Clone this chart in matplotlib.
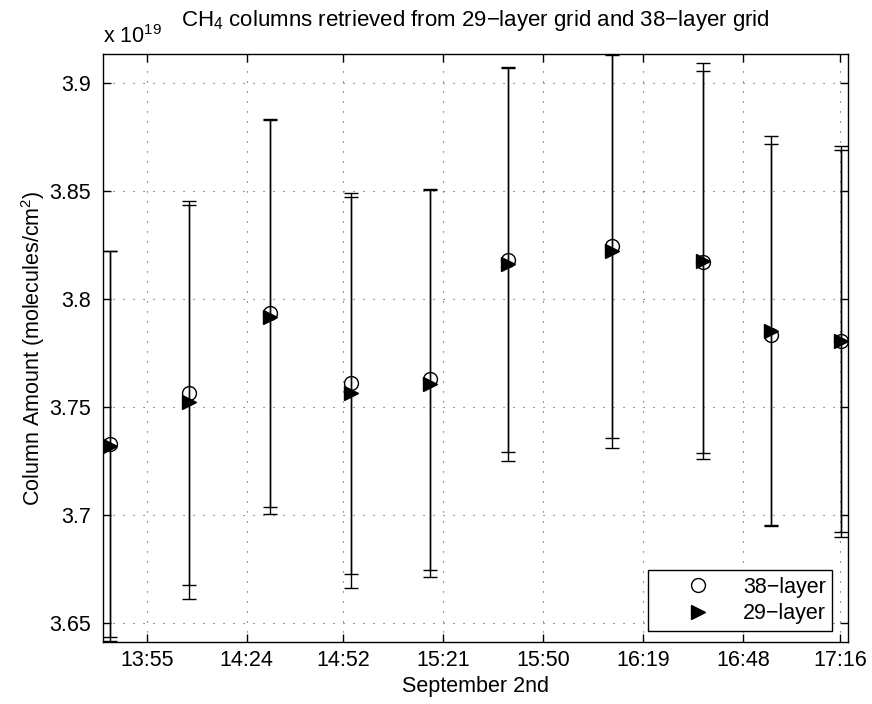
import matplotlib
matplotlib.use('Agg')
import matplotlib.pyplot as plt
from matplotlib.lines import Line2D

plt.rcParams['font.family'] = ['Liberation Sans', 'DejaVu Sans']
plt.rcParams['mathtext.fontset'] = 'custom'
plt.rcParams['mathtext.rm'] = 'Liberation Sans'
plt.rcParams['mathtext.it'] = 'Liberation Sans:italic'
plt.rcParams['font.size'] = 15.5

# observation times, minutes after midnight (September 2nd)
obs_minutes = [824.2, 847.3, 870.7, 894.2, 917.1, 939.8, 970.0, 996.2, 1016.0, 1036.2]

# CH4 columns in units of 1e19 molecules/cm^2
col_38 = [3.7330, 3.7565, 3.7935, 3.7609, 3.7628, 3.8181, 3.8244, 3.8171, 3.7835, 3.7806]
err_38 = [0.0895, 0.0891, 0.0898, 0.0885, 0.0884, 0.0889, 0.0888, 0.0886, 0.0884, 0.0884]
col_29 = [3.7320, 3.7521, 3.7917, 3.7565, 3.7608, 3.8163, 3.8225, 3.8177, 3.7853, 3.7804]
err_29 = [0.0905, 0.0913, 0.0912, 0.0906, 0.0898, 0.0912, 0.0915, 0.0916, 0.0904, 0.0906]

time_labels = ['13:55', '14:24', '14:52', '15:21', '15:50', '16:19', '16:48', '17:16']
col_labels = ['3.65', '3.7', '3.75', '3.8', '3.85', '3.9']


def to_minutes(hhmm):
    h, m = hhmm.split(':')
    return int(h) * 60 + int(m)


fig = plt.figure(figsize=(8.72, 7.04), dpi=100)
ax = fig.add_axes([103.3 / 872, 1 - 641.7 / 704, 745 / 872, 587.7 / 704])

ebar_kw = dict(ecolor='k', elinewidth=1.0, capsize=5, capthick=1.0, ls='none', ms=10)
ax.errorbar(obs_minutes, col_38, yerr=err_38, fmt='o', mfc='none', mec='k', mew=1.0,
            zorder=3, **ebar_kw)
ax.errorbar(obs_minutes, col_29, yerr=err_29, fmt='>', mfc='k', mec='k',
            zorder=4, **ebar_kw)

ax.set_xlim(822.4, 1038.4)
ax.set_ylim(3.6412, 3.9136)
ax.set_xticks([to_minutes(s) for s in time_labels])
ax.set_xticklabels(time_labels)
ax.set_yticks([float(s) for s in col_labels])
ax.set_yticklabels(col_labels)

ax.grid(True, color='0.3', linewidth=0.8, linestyle=(0, (1, 8)))
ax.tick_params(direction='in', length=6, width=1, top=True, right=True)
ax.tick_params(axis='x', pad=6)
ax.tick_params(axis='y', pad=9)
for sp in ax.spines.values():
    sp.set_linewidth(1.0)

ax.set_xlabel('September 2nd')
ax.xaxis.set_label_coords(0.5, -0.058)
ax.xaxis.label.set_va('top')
ax.set_ylabel('Column Amount (molecules/cm$^2$)')
ax.yaxis.set_label_coords(-0.0756, 0.5)

ax.text(0.5, 1.0476, 'CH$_4$ columns retrieved from 29\u2212layer grid and 38\u2212layer grid',
        transform=ax.transAxes, ha='center', va='baseline', fontsize=16)
ax.text(0.0, 1 + 11 / 587.7, 'x 10$^{19}$', transform=ax.transAxes,
        ha='left', va='baseline')

handles = [
    Line2D([], [], ls='none', marker='o', mfc='none', mec='k', mew=1.0, ms=10),
    Line2D([], [], ls='none', marker='>', mfc='k', mec='k', ms=10),
]
leg = ax.legend(handles, ['38\u2212layer', '29\u2212layer'], loc='lower right',
                bbox_to_anchor=(0.9785, 0.0187), borderaxespad=0, fancybox=False,
                edgecolor='k', framealpha=1, handlelength=4, handletextpad=0.1,
                borderpad=0.3, labelspacing=0.25)
leg.get_frame().set_linewidth(1.0)

fig.savefig('out.png', dpi=100)
